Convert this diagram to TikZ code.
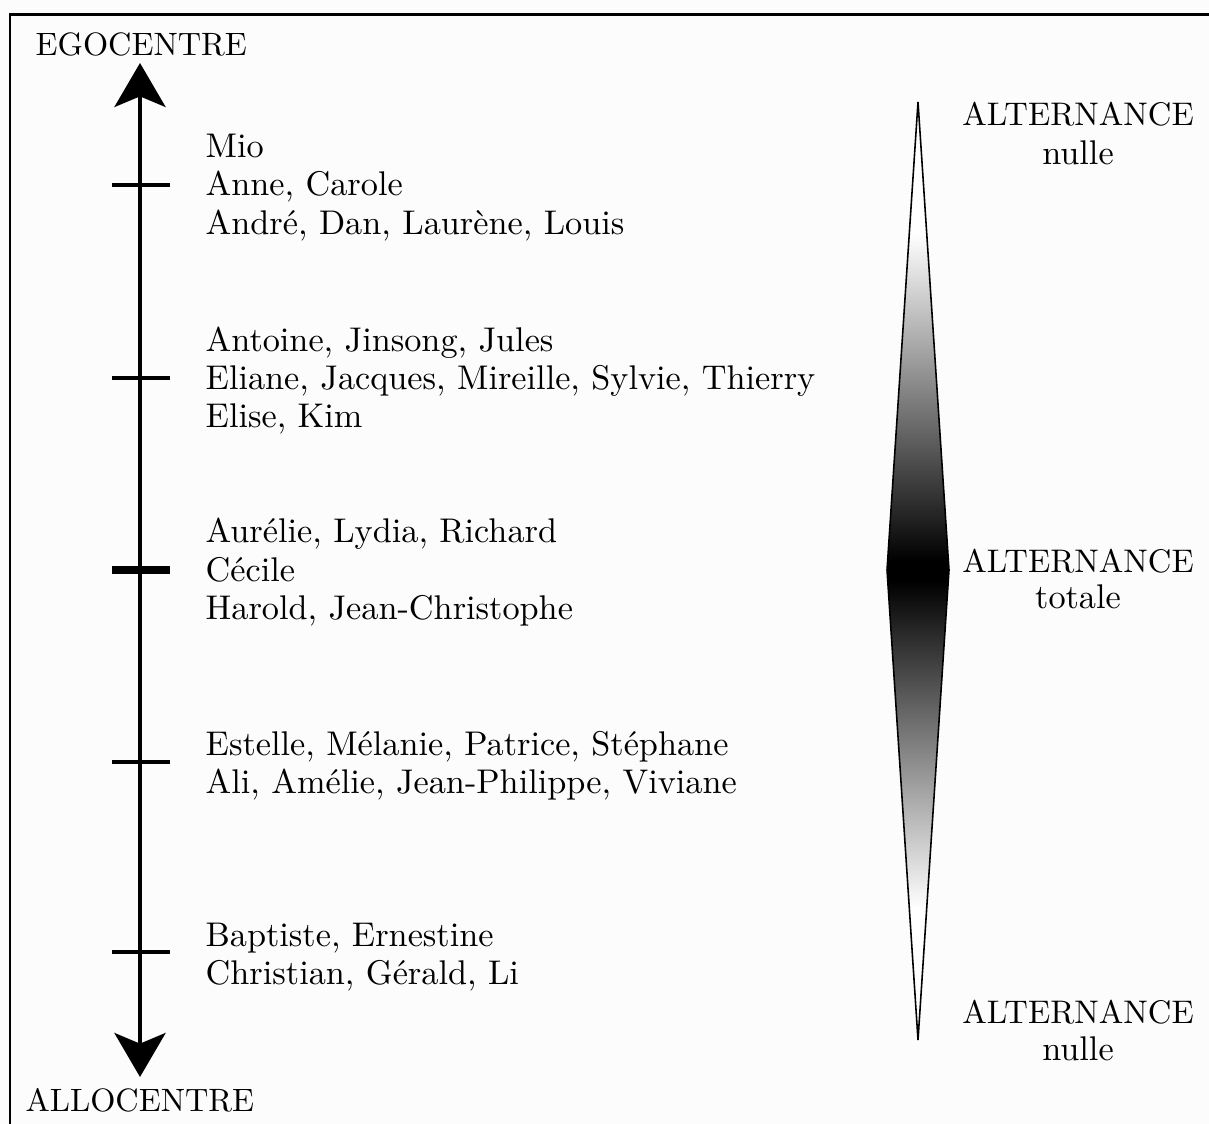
\documentclass[tikz,border=0pt]{standalone}
\usetikzlibrary{arrows.meta}

% white at both tips, black at the widest point
\pgfdeclareverticalshading{altshade}{100bp}{%
  color(0bp)=(white); color(25bp)=(white); color(32bp)=(white);
  color(49.5bp)=(black); color(50.5bp)=(black);
  color(68bp)=(white); color(75bp)=(white); color(100bp)=(white)}

\begin{document}
\begin{tikzpicture}[x=0.02cm,y=-0.02cm,
  txt/.style={scale=1.84, inner sep=0pt, anchor=base west},
  nametxt/.style={scale=1.95, inner sep=0pt, anchor=base west},
  ctxt/.style={scale=1.86, inner sep=0pt, anchor=base},
  lctxt/.style={scale=1.95, inner sep=0pt, anchor=base},
  axisline/.style={line width=2.8pt,
    {Stealth[length=25pt,width=29pt,inset=6pt]}-{Stealth[length=25pt,width=29pt,inset=6pt]}},
  tickmark/.style={line width=2.8pt},
  bigtick/.style={line width=4.6pt},
  frameline/.style={line width=1.7pt, line join=miter},
  spindle/.style={draw, line width=0.9pt, shading=altshade}
]
\fill[white!99!black] (0,0) rectangle (1209,1124);
\useasboundingbox (0,0) rectangle (1209,1124);

% frame
\draw[frameline] (10,1124) -- (10,15) -- (1209,15);

% axis labels
\node[txt] (ego)  at (35,56)    {EGOCENTRE};
\node[txt] (allo) at (25,1111)  {ALLOCENTRE};

% vertical axis
\coordinate (axtop) at (140,63);
\coordinate (axbot) at (140,1077);
\draw[axisline] (axbot) -- (axtop);

% tick marks
\draw[tickmark] (112,185) -- (170,185);
\draw[tickmark] (112,378) -- (170,378);
\draw[bigtick]  (112,570) -- (170,570);
\draw[tickmark] (112,762) -- (170,762);
\draw[tickmark] (112,952) -- (170,952);

% names
\node[nametxt] (g1a) at (205,158) {Mio};
\node[nametxt] (g1b) at (205,196) {Anne, Carole};
\node[nametxt] (g1c) at (205,235) {André, Dan, Laurène, Louis};

\node[nametxt] (g2a) at (205,352) {Antoine, Jinsong, Jules};
\node[nametxt] (g2b) at (205,390) {Eliane, Jacques, Mireille, Sylvie, Thierry};
\node[nametxt] (g2c) at (205,428) {Elise, Kim};

\node[nametxt] (g3a) at (205,542) {Aurélie, Lydia, Richard};
\node[nametxt] (g3b) at (205,581) {Cécile};
\node[nametxt] (g3c) at (205,619) {Harold, Jean-Christophe};

\node[nametxt] (g4a) at (205,755) {Estelle, Mélanie, Patrice, Stéphane};
\node[nametxt] (g4b) at (205,793) {Ali, Amélie, Jean-Philippe, Viviane};

\node[nametxt] (g5a) at (205,946) {Baptiste, Ernestine};
\node[nametxt] (g5b) at (205,984) {Christian, Gérald, Li};

% spindle
\path[spindle] (918,102) -- (949,570) -- (918,1040) -- (887,570) -- cycle;

% right-hand labels
\node[ctxt]  (alt1) at (1078,126)  {ALTERNANCE};
\node[lctxt] (nul1) at (1078,165)  {nulle};
\node[ctxt]  (alt2) at (1078,572)  {ALTERNANCE};
\node[lctxt] (tot)  at (1078,608)  {totale};
\node[ctxt]  (alt3) at (1078,1023) {ALTERNANCE};
\node[lctxt] (nul3) at (1078,1060) {nulle};
\end{tikzpicture}
\end{document}
